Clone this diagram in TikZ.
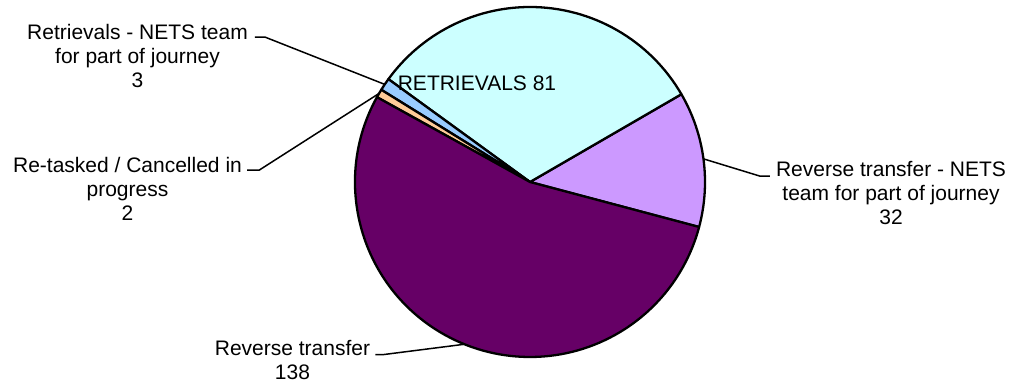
\documentclass[tikz,border=0pt]{standalone}
\usepackage{fontspec}
\setmainfont{Liberation Sans}
\usepackage{tikz}
\usetikzlibrary{positioning}

\definecolor{paleaqua}{HTML}{CCFFFF}
\definecolor{lilac}{HTML}{CC99FF}
\definecolor{plum}{HTML}{660066}
\definecolor{peach}{HTML}{FFCC99}
\definecolor{skyblue}{HTML}{99CCFF}

\begin{document}
\begin{tikzpicture}[x=1pt,y=1pt,font=\fontsize{21}{24}\selectfont]
  \tikzstyle{slice}=[draw=black,line width=2.3pt,line join=round]
  \tikzstyle{lbl}=[align=center,inner sep=0pt]
  \tikzstyle{leader}=[draw=black,line width=1.5pt]

  \useasboundingbox (0,0) rectangle (1011,385);
  \coordinate (ctr) at (530,203);

  % slices, counter-clockwise from the lilac one
  \foreach \from/\to/\col in {-14.9/30.1/lilac, 30.1/144.0/paleaqua,
      144.0/148.2/skyblue, 148.2/151.0/peach, 151.0/345.1/plum}
    \filldraw[slice,fill=\col] (ctr) -- ++(\from:175)
      arc[start angle=\from,end angle=\to,radius=175] -- cycle;

  \path (ctr) ++(146.1:175) coordinate (rnEdge);
  \path (ctr) ++(149.6:175) coordinate (rcEdge);
  \path (ctr) ++(7.6:175)   coordinate (rtnEdge);
  \path (ctr) ++(248.0:175) coordinate (rtEdge);

  \node[lbl] (rnLbl)  at (137.5,329) {Retrievals - NETS team\\for part of journey\\3};
  \node[lbl] (rcLbl)  at (127.5,196) {Re-tasked / Cancelled in\\progress\\2};
  \node[lbl] (rtnLbl) at (891,192)   {Reverse transfer - NETS\\team for part of journey\\32};
  \node[lbl] (rtLbl)  at (292.5,24.5) {Reverse transfer\\138};
  \node[lbl] (retLbl) at (477,302)   {RETRIEVALS 81};

  \draw[leader] ([xshift=7pt,yshift=-13pt]rnLbl.north east) -- ++(10,0) -- (rnEdge);
  \draw[leader] ([xshift=5pt,yshift=-13pt]rcLbl.north east) -- ++(12,0) -- (rcEdge);
  \draw[leader] ([xshift=-6pt,yshift=-15pt]rtnLbl.north west) -- ++(-10,0) -- (rtnEdge);
  \draw[leader] ([xshift=5pt,yshift=-14pt]rtLbl.north east) -- ++(8,0) -- (rtEdge);
\end{tikzpicture}
\end{document}
